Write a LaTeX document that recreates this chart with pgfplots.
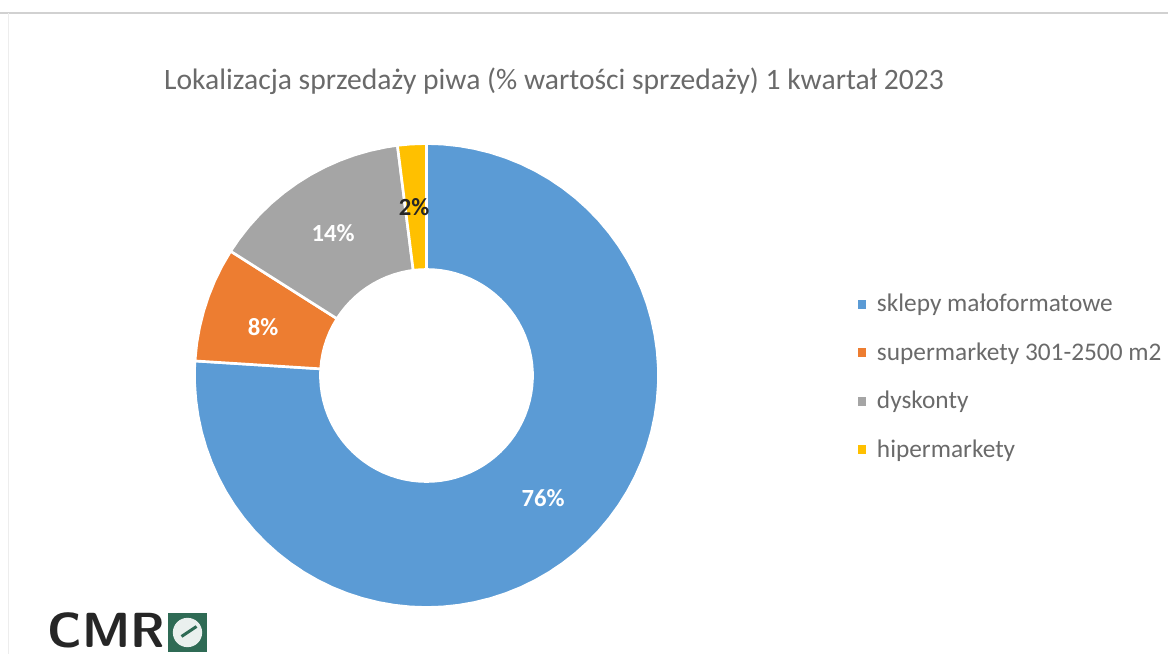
\documentclass[border=0pt]{standalone}
\usepackage{pgfplots}
\pgfplotsset{compat=1.18}
\usepackage{fontspec}
\setmainfont{Carlito}
\definecolor{cblue}{HTML}{5B9BD5}
\definecolor{corange}{HTML}{ED7D31}
\definecolor{cgray}{HTML}{A5A5A5}
\definecolor{cyellow}{HTML}{FFC000}
\definecolor{ctext}{HTML}{6A6A6A}
\definecolor{clogo}{HTML}{2F6B55}
\pgfplotsset{square key/.style={legend image code/.code={
  \fill[##1] (-2.9pt,-2.9pt) rectangle (2.9pt,2.9pt);
  \path[draw=none] (0pt,0pt) -- (9.5pt,0pt);}}}
\begin{document}
\begin{tikzpicture}
\begin{axis}[
  scale only axis, width=876pt, height=490.5pt,
  xmin=-426.5, xmax=741.5, ymin=-278.5, ymax=375.5,
  hide axis, clip=false,
  legend cell align=left,
  legend style={draw=none, fill=none, at={(axis cs:431,84)}, anchor=north west,
    font=\fontsize{19}{22}\selectfont\color{ctext}, row sep=17.7pt, inner sep=0pt, outer sep=0pt},
]
% page area of the figure
\path[use as bounding box] (rel axis cs:0,0) rectangle (rel axis cs:1,1);

% sklepy malo-formatowe, 76 %
\addplot[fill=cblue, draw=white, line width=2pt, data cs=polar, forget plot] coordinates {
(90,232)(86,232)(82,232)(78,232)(74,232)(70,232)(66,232)(62,232)(58,232)(54,232)(50,232)(46,232)(42,232)(38,232)(34,232)(30,232)(26,232)(22,232)(18,232)(14,232)(10,232)(6,232)(2,232)(-2,232)(-6,232)(-10,232)(-14,232)(-18,232)(-22,232)(-26,232)(-30,232)(-34,232)(-38,232)(-42,232)(-46,232)(-50,232)(-54,232)(-58,232)(-62,232)(-66,232)(-70,232)(-74,232)(-78,232)(-82,232)(-86,232)(-90,232)(-94,232)(-98,232)(-102,232)(-106,232)(-110,232)(-114,232)(-118,232)(-122,232)(-126,232)(-130,232)(-134,232)(-138,232)(-142,232)(-146,232)(-150,232)(-154,232)(-158,232)(-162,232)(-166,232)(-170,232)(-174,232)(-178,232)(-182,232)(-183.6,232)
(-183.6,106)(-182,106)(-178,106)(-174,106)(-170,106)(-166,106)(-162,106)(-158,106)(-154,106)(-150,106)(-146,106)(-142,106)(-138,106)(-134,106)(-130,106)(-126,106)(-122,106)(-118,106)(-114,106)(-110,106)(-106,106)(-102,106)(-98,106)(-94,106)(-90,106)(-86,106)(-82,106)(-78,106)(-74,106)(-70,106)(-66,106)(-62,106)(-58,106)(-54,106)(-50,106)(-46,106)(-42,106)(-38,106)(-34,106)(-30,106)(-26,106)(-22,106)(-18,106)(-14,106)(-10,106)(-6,106)(-2,106)(2,106)(6,106)(10,106)(14,106)(18,106)(22,106)(26,106)(30,106)(34,106)(38,106)(42,106)(46,106)(50,106)(54,106)(58,106)(62,106)(66,106)(70,106)(74,106)(78,106)(82,106)(86,106)(90,106)
} -- cycle;
% supermarkety, 8 %
\addplot[fill=corange, draw=white, line width=2pt, data cs=polar, forget plot] coordinates {
(176.4,232)(172,232)(168,232)(164,232)(160,232)(156,232)(152,232)(147.6,232)
(147.6,106)(152,106)(156,106)(160,106)(164,106)(168,106)(172,106)(176.4,106)
} -- cycle;
% dyskonty, 14 %
\addplot[fill=cgray, draw=white, line width=2pt, data cs=polar, forget plot] coordinates {
(147.6,232)(144,232)(140,232)(136,232)(132,232)(128,232)(124,232)(120,232)(116,232)(112,232)(108,232)(104,232)(100,232)(97.2,232)
(97.2,106)(100,106)(104,106)(108,106)(112,106)(116,106)(120,106)(124,106)(128,106)(132,106)(136,106)(140,106)(144,106)(147.6,106)
} -- cycle;
% hipermarkety, 2 %
\addplot[fill=cyellow, draw=white, line width=2pt, data cs=polar, forget plot] coordinates {
(97.2,232)(94,232)(90,232)(90,106)(94,106)(97.2,106)
} -- cycle;

\addlegendimage{square key, cblue}
\addlegendentry{sklepy małoformatowe}
\addlegendimage{square key, corange}
\addlegendentry{supermarkety 301-2500 m2}
\addlegendimage{square key, cgray}
\addlegendentry{dyskonty}
\addlegendimage{square key, cyellow}
\addlegendentry{hipermarkety}

% value labels
\node[white, font=\fontsize{18.5}{20}\selectfont\bfseries] at (axis cs:116.5,-122.5) {76\%};
\node[white, font=\fontsize{18.5}{20}\selectfont\bfseries] at (axis cs:-163.5,48.5) {8\%};
\node[white, font=\fontsize{18.5}{20}\selectfont\bfseries] at (axis cs:-93.5,142.5) {14\%};
\node[black!85, font=\fontsize{18.5}{20}\selectfont\bfseries] at (axis cs:-12.5,168.5) {2\%};

% title
\node[ctext, font=\fontsize{22.2}{26}\selectfont, anchor=center] at (axis cs:127.5,294.5) {Lokalizacja sprzedaży piwa (\% wartości sprzedaży) 1 kwartał 2023};

% chart frame, top and left edges
\draw[color=black!18, line width=1.2pt] (axis cs:-426.5,362.5) -- (axis cs:741.5,362.5);
\draw[color=black!7, line width=1.2pt] (axis cs:-418,-278.5) -- (axis cs:-418,362.5);

% company logo
\node[black!85, font=\fontsize{37}{40}\selectfont\sffamily\bfseries, anchor=base west, inner sep=0pt] at (axis cs:-379,-272) {CMR};
\fill[clogo] (axis cs:-258.5,-276.5) rectangle (axis cs:-219.5,-237.5);
\fill[white!90!clogo] (axis cs:-239,-257) circle[radius=11pt];
\draw[clogo, line width=2.2pt] (axis cs:-245,-261) -- (axis cs:-230,-251);
\end{axis}
\end{tikzpicture}
\end{document}
